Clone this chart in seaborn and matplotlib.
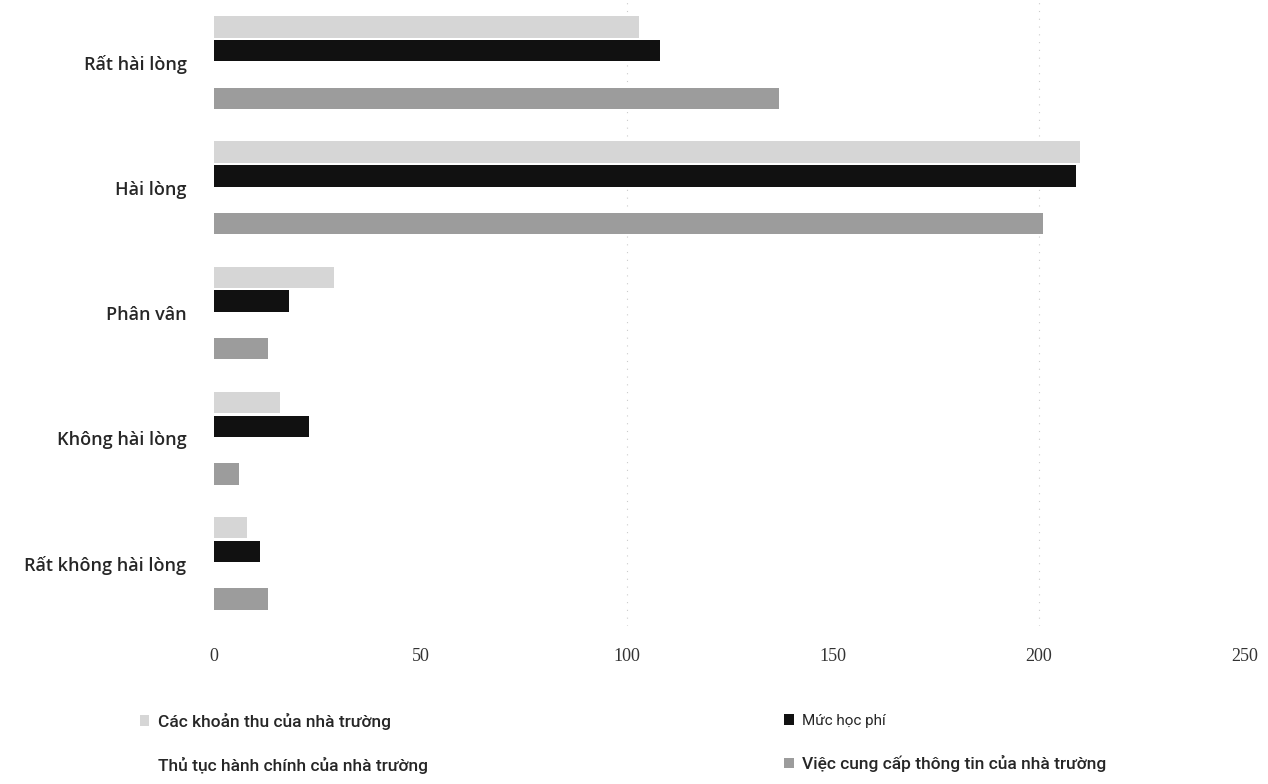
import pandas as pd
import matplotlib
matplotlib.use("Agg")
import matplotlib.pyplot as plt
import seaborn as sns
from matplotlib.patches import Patch

# Data
levels = ['Rất hài lòng', 'Hài lòng', 'Phân vân', 'Không hài lòng', 'Rất không hài lòng']
series = ['Các khoản thu của nhà trường', 'Thủ tục hành chính của nhà trường',
          'Mức học phí', 'Việc cung cấp thông tin của nhà trường']
cac_khoan_thu = [103, 210, 29, 16, 8]
muc_hoc_phi = [108, 209, 18, 23, 11]
thu_tuc = [0, 0, 0, 0, 0]          # drawn in white in the original, not readable
cung_cap_tt = [137, 201, 13, 6, 13]
x_ticks = [0, 50, 100, 150, 200, 250]

# bar order inside a group (top to bottom)
bar_order = [series[0], series[2], series[1], series[3]]
colors = {series[0]: '#d6d6d6', series[2]: '#111111',
          series[1]: '#ffffff', series[3]: '#9c9c9c'}

rows = []
for name, vals in [(series[0], cac_khoan_thu), (series[2], muc_hoc_phi),
                   (series[1], thu_tuc), (series[3], cung_cap_tt)]:
    for lv, v in zip(levels, vals):
        rows.append({'level': lv, 'series': name, 'value': v})
df = pd.DataFrame(rows)

sns.set_style('white')
plt.rcParams['font.family'] = ['Open Sans', 'DejaVu Sans']

fig = plt.figure(figsize=(12.68, 7.84), dpi=100)
ax = fig.add_axes([0.169, 0.2015, 0.813, 0.7985])

sns.barplot(data=df, y='level', x='value', hue='series', order=levels,
            hue_order=bar_order, palette=colors, orient='h', width=0.76,
            gap=0.1, linewidth=0, ax=ax, legend=False)

ax.set_xlim(0, 250)
ax.set_xticks(x_ticks)
ax.set_xticklabels([str(t) for t in x_ticks], family='Liberation Serif', fontsize=13, color='#333333')
ax.tick_params(axis='x', length=0, pad=16)
ax.tick_params(axis='y', length=0, pad=20, labelsize=13)
for lab in ax.get_yticklabels():
    lab.set_fontweight('semibold')
ax.set_xlabel('')
ax.set_ylabel('')
for s in ax.spines.values():
    s.set_visible(False)
for g in [100, 200]:
    ax.axvline(g, color='#cccccc', linestyle=(0, (1, 6)), linewidth=0.8, zorder=0)

# Legend below the plot, two columns
handles = {s: Patch(facecolor=colors[s], edgecolor='none') for s in series}
leg_kw = dict(loc='center left', frameon=False, handlelength=0.55, handleheight=0.55,
              handletextpad=0.5, labelspacing=1.55,
              prop={'family': 'Roboto', 'size': 12.5, 'weight': 'medium'})
col1 = [series[0], series[1]]
col2 = [series[2], series[3]]
leg1 = fig.legend([handles[s] for s in col1], col1, bbox_to_anchor=(0.098, 0.052), **leg_kw)
leg2 = fig.legend([handles[s] for s in col2], col2, bbox_to_anchor=(0.606, 0.052), **leg_kw)
leg2.get_texts()[0].set_fontsize(11)
leg2.get_texts()[0].set_fontweight('normal')

fig.savefig('out.png', dpi=100)
